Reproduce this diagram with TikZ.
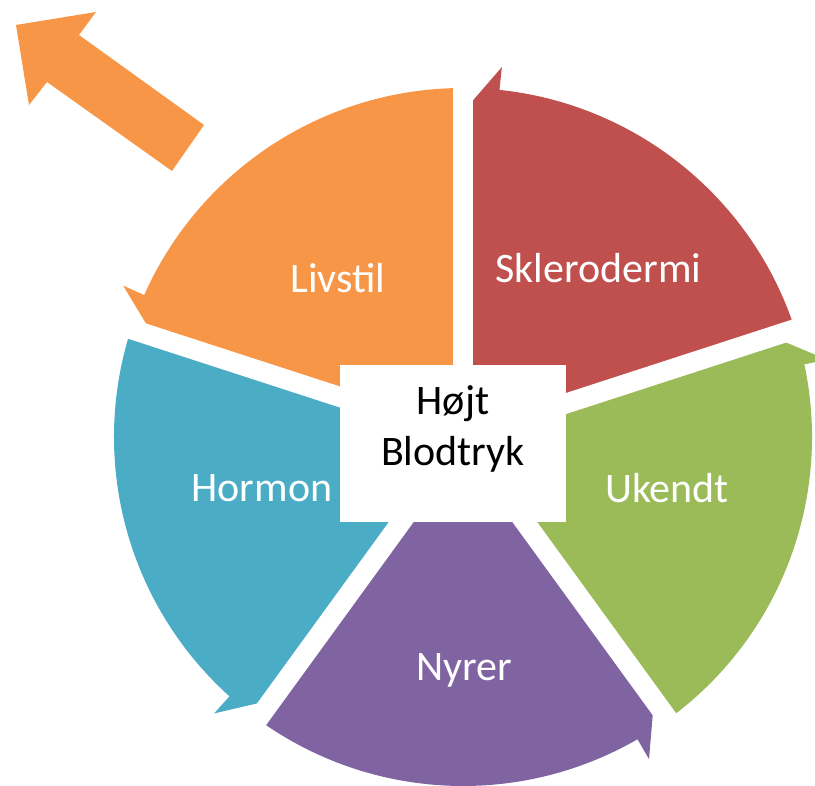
\documentclass[tikz,border=0pt]{standalone}
\usepackage{fontspec}
\setmainfont{Carlito}
\usetikzlibrary{calc,positioning}
\definecolor{segOrange}{HTML}{F79646}
\definecolor{segRed}{HTML}{C0504D}
\definecolor{segGreen}{HTML}{9BBB59}
\definecolor{segPurple}{HTML}{8064A2}
\definecolor{segBlue}{HTML}{4BACC6}
\begin{document}
\begin{tikzpicture}[
  x=1pt, y=1pt,
  seglabel/.style={text=white, font=\fontsize{42}{51}\selectfont,
                   inner sep=0pt, anchor=base},
  hubbox/.style={rectangle, fill=white, minimum width=226pt,
                 minimum height=157pt, inner sep=0pt},
  hubtext/.style={align=center, font=\fontsize{42}{51}\selectfont,
                  inner sep=0pt},
  gap/.style={draw=white, line width=20pt}
]
\useasboundingbox (0,0) rectangle (815,786);
% cycle segments
\begin{scope}[shift={(463,349)}]
\foreach \a/\c in {90/segRed, 18/segGreen, -54/segPurple,
                   -126/segBlue, 162/segOrange}{
  \pgfmathsetmacro{\b}{\a-6}
  \pgfmathsetmacro{\e}{\a-72}
  \fill[\c] (0,0) -- (\a:325) -- (\b:372) -- (\b:349)
    arc[start angle=\b, end angle=\e, radius=349] -- cycle;
}
\foreach \a in {90,18,-54,-126,162}
  \draw[gap] (0,0) -- (\a:400);
\end{scope}
% outgoing arrow
\fill[segOrange] (16,761) -- (96,774) -- (79,751) -- (204,661)
  -- (172,615) -- (47,704) -- (29,681) -- cycle;
% centre
\node[hubbox] (hub) at (453,342.5) {};
\node[hubtext] (title) at ([yshift=15pt]hub.center) {Højt\\Blodtryk};
% labels
\node[seglabel] (skl) at (598.5,503) {Sklerodermi};
\node[seglabel] (uke) at (667,283) {Ukendt};
\node[seglabel] (nyr) at (464,105) {Nyrer};
\node[seglabel] (hor) at (262,284) {Hormon};
\node[seglabel] (liv) at (338,493) {Livstil};
\end{tikzpicture}
\end{document}
